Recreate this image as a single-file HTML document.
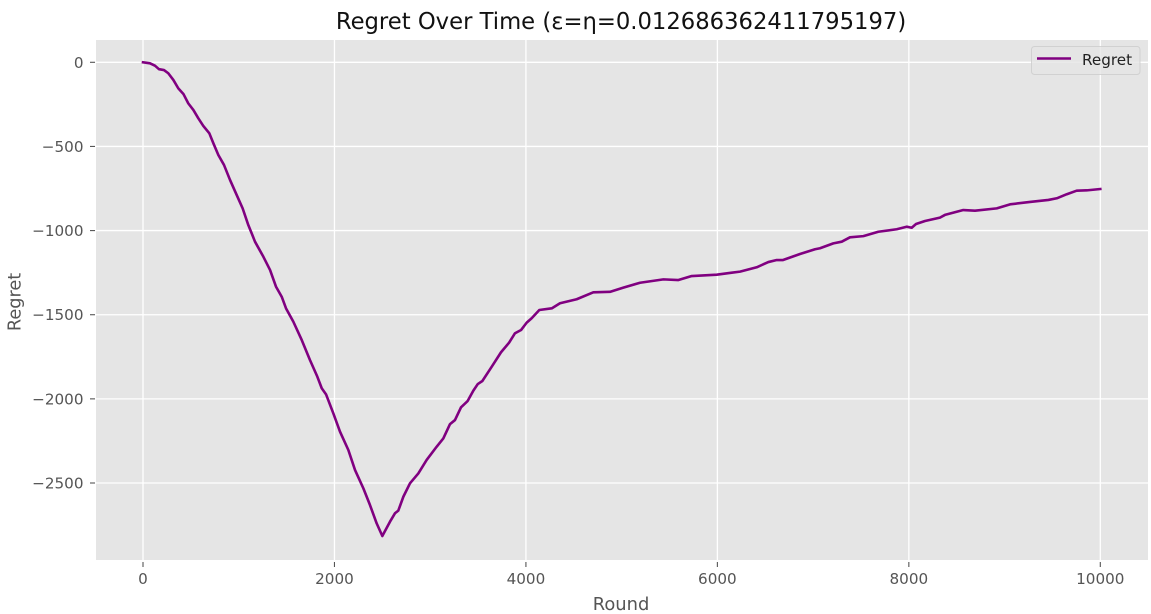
<!DOCTYPE html>
<html lang="en">
<head>
<meta charset="utf-8">
<title>Regret Over Time</title>
<style>
html,body{margin:0;padding:0;background:#fff;}
svg{display:block;font-family:"DejaVu Sans","Liberation Sans",sans-serif;filter:blur(0.3px);}
</style>
</head>
<body>
<svg id="chart" width="1151" height="614" viewBox="0 0 1151 614" xmlns="http://www.w3.org/2000/svg">
  <rect x="0" y="0" width="1151" height="614" fill="#ffffff"/>
  <rect x="96" y="40" width="1052" height="520" fill="#e5e5e5"/>
  <g id="grid"></g>
  <g id="ticks"></g>
  <path id="line" fill="none" stroke="#800080" stroke-width="2.6" stroke-linejoin="round" stroke-linecap="square"/>
  <text x="621" y="29" text-anchor="middle" font-size="22.7" fill="#111111">Regret Over Time (ε=η=0.012686362411795197)</text>
  <text x="621" y="610" text-anchor="middle" font-size="17.9" fill="#555555">Round</text>
  <text transform="translate(20.5,302) rotate(-90)" text-anchor="middle" font-size="17.7" fill="#555555">Regret</text>
  <g>
    <rect x="1031.5" y="46.5" width="108.5" height="28" rx="3" fill="#e5e5e5" fill-opacity="0.8" stroke="#cccccc" stroke-opacity="0.8" stroke-width="1"/>
    <line x1="1037" y1="58.5" x2="1071" y2="58.5" stroke="#800080" stroke-width="2.4"/>
    <text x="1082" y="65" font-size="15.2" fill="#222222">Regret</text>
  </g>
</svg>
<script>
const rounds = [0,73,125,167,219,264,317,369,422,473,526,578,630,693,735,787,846,909,979,1041,1100,1135,1170,1257,1327,1389,1449,1494,1570,1658,1744,1821,1867,1912,1988,2058,2145,2215,2302,2371,2441,2500,2580,2632,2667,2720,2789,2876,2963,3068,3137,3207,3259,3322,3391,3451,3497,3545,3643,3740,3824,3886,3949,4008,4060,4140,4270,4356,4530,4704,4878,5018,5192,5436,5593,5732,5993,6150,6237,6411,6532,6620,6686,6863,7020,7072,7211,7299,7385,7525,7681,7873,7977,8030,8075,8169,8325,8377,8569,8691,8918,9057,9266,9458,9546,9650,9753,9858,10000];
const regret = [0,-6,-20,-41,-46,-65,-105,-155,-188,-244,-283,-333,-378,-422,-481,-551,-610,-699,-789,-868,-967,-1016,-1066,-1155,-1234,-1333,-1393,-1462,-1541,-1650,-1769,-1868,-1937,-1973,-2086,-2195,-2304,-2423,-2532,-2631,-2740,-2815,-2730,-2680,-2664,-2581,-2502,-2443,-2363,-2284,-2235,-2150,-2126,-2050,-2013,-1951,-1912,-1894,-1809,-1723,-1666,-1610,-1591,-1547,-1521,-1472,-1462,-1432,-1408,-1367,-1364,-1339,-1310,-1290,-1294,-1270,-1262,-1250,-1244,-1218,-1187,-1175,-1175,-1139,-1111,-1105,-1076,-1066,-1040,-1033,-1007,-992,-977,-983,-961,-943,-923,-907,-878,-882,-868,-844,-830,-818,-808,-784,-763,-761,-753];
const xTickValues = [0,2000,4000,6000,8000,10000];
const yTickValues = [0,-500,-1000,-1500,-2000,-2500];

function xScale(v){ return 143 + v * 0.09573; }
function yScale(v){ return 62.3 - v * 0.16828; }
function fmt(v){ return v < 0 ? '\u2212' + Math.abs(v) : String(v); }

const NS = 'http://www.w3.org/2000/svg';
const grid = document.getElementById('grid');
const ticks = document.getElementById('ticks');

function addLine(parent, x1, y1, x2, y2, stroke, width){
  const l = document.createElementNS(NS, 'line');
  l.setAttribute('x1', x1);
  l.setAttribute('y1', y1);
  l.setAttribute('x2', x2);
  l.setAttribute('y2', y2);
  l.setAttribute('stroke', stroke);
  l.setAttribute('stroke-width', width);
  parent.appendChild(l);
  return l;
}
function addLabel(parent, x, y, anchor, content){
  const t = document.createElementNS(NS, 'text');
  t.setAttribute('x', x);
  t.setAttribute('y', y);
  t.setAttribute('text-anchor', anchor);
  t.setAttribute('font-size', '15.2');
  t.setAttribute('fill', '#555555');
  t.textContent = content;
  parent.appendChild(t);
  return t;
}

xTickValues.forEach(function(v){
  const x = xScale(v);
  const g = addLine(grid, x, 40, x, 560, '#ffffff', 1.3);
  
  
  const m = addLine(ticks, x, 562, x, 567, '#555555', 1.1);
  
  
  const t = addLabel(ticks, x, 584, 'middle', fmt(v));
  
  
});
yTickValues.forEach(function(v){
  const y = yScale(v);
  const g = addLine(grid, 96, y, 1148, y, '#ffffff', 1.3);
  
  
  const m = addLine(ticks, 90, y, 95, y, '#555555', 1.1);
  
  
  const t = addLabel(ticks, 83.5, y + 5.5, 'end', fmt(v));
  
  
});

document.getElementById('line').setAttribute('d', rounds.map(function(r, i){
  return (i ? 'L' : 'M') + xScale(r).toFixed(2) + ' ' + yScale(regret[i]).toFixed(2);
}).join(' '));
</script>
</body>
</html>
